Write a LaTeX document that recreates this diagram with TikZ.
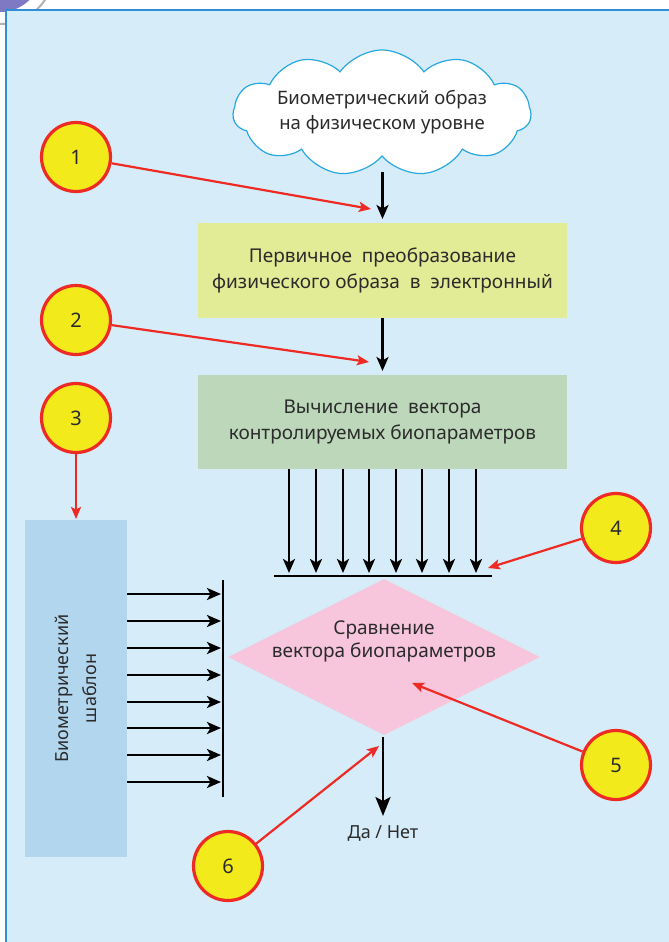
\documentclass[tikz,border=0pt]{standalone}
\usepackage{fontspec}
\setmainfont{Noto Sans}
\usetikzlibrary{shapes.symbols,shapes.geometric,arrows.meta,calc}
\definecolor{bgblue}{HTML}{D6EDF9}
\definecolor{frameblue}{HTML}{2E8FD6}
\definecolor{cloudblue}{HTML}{29A8E0}
\definecolor{boxyellow}{HTML}{E2EB95}
\definecolor{boxgreen}{HTML}{BDD7BA}
\definecolor{boxblue}{HTML}{B3D6EF}
\definecolor{diapink}{HTML}{F7C6DC}
\definecolor{numyellow}{HTML}{F2EA1A}
\definecolor{numred}{HTML}{EE2A24}
\definecolor{txt}{HTML}{2B2B2B}
\definecolor{logopurple}{HTML}{7F78C2}
\tikzset{
  procbox/.style={rectangle, inner sep=0pt, text=txt, align=center, font=\fontsize{19}{26}\selectfont},
  numcirc/.style={circle, fill=numyellow, draw=numred, line width=3.2pt, minimum size=69pt, inner sep=0pt, text=txt, font=\fontsize{20}{22}\selectfont},
  redarrow/.style={draw=numred, line width=2.2pt, -{Stealth[length=12pt,width=10pt,inset=2.5pt]}},
  blackarrow/.style={draw=black, line width=2.5pt, -{Stealth[length=14pt,width=12pt,inset=3.5pt]}},
  bigarrow/.style={draw=black, line width=2.8pt, -{Stealth[length=19pt,width=15pt,inset=4pt]}},
  busline/.style={draw=black, line width=2.8pt},
  lbl/.style={text=txt, align=center, font=\fontsize{17}{22}\selectfont}
}
\begin{document}
\begin{tikzpicture}[x=1pt,y=-1pt]
\useasboundingbox (0,0) rectangle (669,942);
\fill[white] (0,0) rectangle (669,942);
% logo fragment
\fill[logopurple] (0,-30) circle (42);
\draw[gray!60, line width=2pt] (0,-30) circle (54);
% panel
\fill[bgblue] (6,10) rectangle (675,950);
\draw[frameblue, line width=1.5pt] (6,950) -- (6,10) -- (675,10);

% cloud
\node[cloud, cloud puffs=11, cloud puff arc=110, aspect=2.5, fill=white, draw=cloudblue, line width=1.2pt,
      minimum width=298pt, minimum height=126pt, inner sep=0pt] (cloud) at (382,113) {};
\node[lbl, font=\fontsize{18.5}{25}\selectfont] (cloudtxt) at (382,112) {Биометрический образ\\на физическом уровне};

% boxes
\node[procbox, fill=boxyellow, minimum width=369pt, minimum height=95pt] (box1) at (382.5,270.5)
  {Первичное\ \ преобразование\\физического образа\ \ в\ \ электронный};
\node[procbox, fill=boxgreen, minimum width=369pt, minimum height=94pt] (box2) at (382.5,422)
  {Вычисление\ \ вектора\\контролируемых биопараметров};
\node[procbox, fill=boxblue, minimum width=102pt, minimum height=337pt] (tmpl) at (76,688.5) {};
\node[lbl, rotate=90, font=\fontsize{18}{28}\selectfont] (tmpltxt) at (tmpl.center) {Биометрический\\шаблон};

% diamond
\node[diamond, fill=diapink, minimum width=312pt, minimum height=156pt, inner sep=0pt, aspect=2] (cmp) at (384,657) {};
\node[lbl, font=\fontsize{19}{23}\selectfont] (cmptxt) at (384,641) {Сравнение\\вектора биопараметров};

% main flow arrows
\coordinate (a1s) at (382.5,172);
\coordinate (a1e) at (382.5,219);
\coordinate (a2s) at (382.5,318);
\coordinate (a2e) at (382.5,371);
\draw[blackarrow] (a1s) -- (a1e);
\draw[blackarrow] (a2s) -- (a2e);

% vertical bus
\coordinate (vbarL) at (274,576);
\coordinate (vbarR) at (492,576);
\draw[busline] (vbarL) -- (vbarR);
\foreach \i/\x in {1/289,2/316,3/343,4/369,5/396,6/422,7/449,8/476}{
  \coordinate (vb\i) at (\x,573);
  \draw[blackarrow] (box2.south -| vb\i) -- (vb\i);
}

% horizontal bus
\coordinate (hbarT) at (223,580);
\coordinate (hbarB) at (223,797);
\draw[busline] (hbarT) -- (hbarB);
\foreach \i/\y in {1/594,2/621,3/648,4/675,5/702,6/728,7/755,8/782}{
  \coordinate (hb\i) at (221,\y);
  \draw[blackarrow] (tmpl.east |- hb\i) -- (hb\i);
}

% output
\coordinate (outs) at (383,737);
\coordinate (outend) at (383,816);
\draw[bigarrow] (outs) -- (outend);
\node[lbl, font=\fontsize{18}{22}\selectfont] (yesno) at (383,833) {Да / Нет};

% numbered circles
\node[numcirc] (n1) at (76,157) {1};
\node[numcirc] (n2) at (76,320) {2};
\node[numcirc] (n3) at (76,418) {3};
\node[numcirc] (n4) at (616,528) {4};
\node[numcirc] (n5) at (616,765) {5};
\node[numcirc] (n6) at (228,866) {6};

\coordinate (r1) at (371,209);
\coordinate (r2) at (369,362);
\coordinate (r3) at (76,519);
\coordinate (r4) at (488,568);
\coordinate (r5) at (412,683);
\coordinate (r6) at (379,746);
\draw[redarrow] (n1) -- (r1);
\draw[redarrow] (n2) -- (r2);
\draw[redarrow] (n3) -- (r3);
\draw[redarrow] (n4) -- (r4);
\draw[redarrow] (n5) -- (r5);
\draw[redarrow] (n6) -- (r6);
\end{tikzpicture}
\end{document}
